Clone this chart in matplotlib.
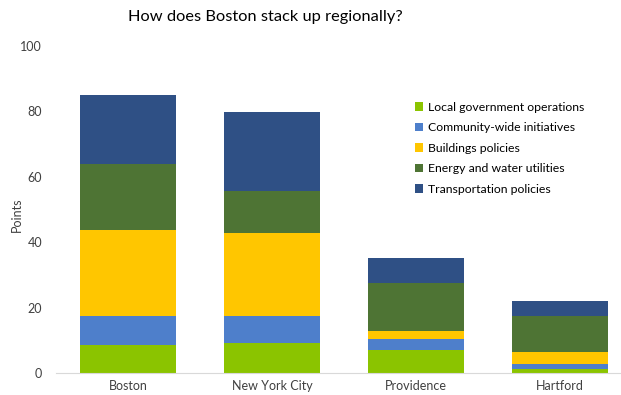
import numpy as np
from matplotlib import pyplot as plt

plt.rcParams['font.family'] = ['Lato', 'DejaVu Sans']

# data
cities = ["Boston", "New York City", "Providence", "Hartford"]
local_gov = [8.6, 9.3, 7.1, 1.3]
community = [8.9, 8.2, 3.4, 1.6]
buildings = [26.2, 25.2, 2.2, 3.5]
energy = [20.1, 13.0, 14.8, 11.0]
transport = [21.2, 24.2, 7.6, 4.7]

series = [("Local government operations", local_gov, '#8BC400'),
          ("Community-wide initiatives", community, '#4E7FCB'),
          ("Buildings policies", buildings, '#FFC600'),
          ("Energy and water utilities", energy, '#4E7434'),
          ("Transportation policies", transport, '#2F5085')]

fig = plt.figure(figsize=(6.21, 3.95), dpi=100)
ax = fig.add_axes([56 / 621, 22 / 395, 1 - 56 / 621, (373 - 46) / 395])

x = np.arange(len(cities))
bottom = np.zeros(len(cities))
for name, vals, col in series:
    ax.bar(x, vals, width=0.667, bottom=bottom, color=col, label=name)
    bottom += np.array(vals)

ax.set_ylim(0, 100)
ax.set_xlim(-0.5, 3.424)
ax.set_yticks([0, 20, 40, 60, 80, 100])
ax.set_xticks(x)
ax.set_xticklabels(cities)
ax.tick_params(axis='both', length=0, labelsize=9, colors='#404040')
ax.tick_params(axis='y', pad=10)
ax.tick_params(axis='x', pad=5)

for s in ['top', 'right', 'left']:
    ax.spines[s].set_visible(False)
ax.spines['bottom'].set_color('#D9D9D9')

fig.text(17 / 621, 1 - 215 / 395, "Points", rotation=90, ha='center',
         va='center', fontsize=9, color='#404040')

fig.text(265 / 621, 1 - 17 / 395, "How does Boston stack up regionally?",
         ha='center', va='center', fontsize=11.8, color='#000000')

leg = ax.legend(loc='upper left', bbox_to_anchor=(0.626, 0.845), frameon=False,
                fontsize=8.8, handlelength=0.7, handleheight=0.7,
                handletextpad=0.4, labelspacing=0.78, borderaxespad=0)
for t in leg.get_texts():
    t.set_color('#000000')

fig.savefig("out.png", dpi=100)
